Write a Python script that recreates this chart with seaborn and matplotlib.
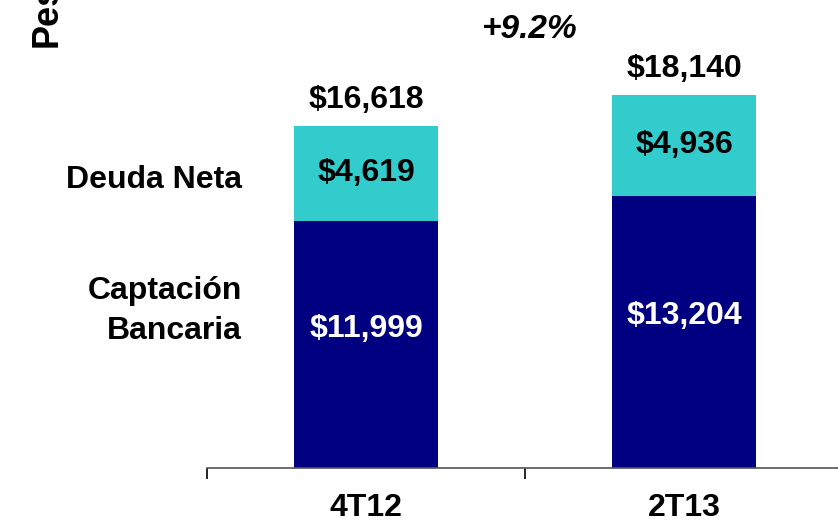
import matplotlib.pyplot as plt
import pandas as pd
import seaborn as sns

# datos (millones de pesos)
periodos = ["4T12", "2T13"]
captacion = [11999, 13204]
deuda_neta = [4619, 4936]
totales = [16618, 18140]
crecimiento = "+9.2%"

azul = "#000080"
turquesa = "#33CCCC"

sns.set_style("white")
plt.rcParams["font.family"] = ["Liberation Sans", "DejaVu Sans"]
plt.rcParams["font.weight"] = "bold"
plt.rcParams["text.color"] = "black"
plt.rcParams["xtick.color"] = "black"
plt.rcParams["xtick.labelcolor"] = "black"

df = pd.DataFrame({"periodo": periodos, "captacion": captacion,
                   "deuda": deuda_neta, "total": totales})

fig = plt.figure(figsize=(8.38, 5.23), dpi=100)
W, H = 838, 523
base_px = 467.5
ax = fig.add_axes([207 / W, 1 - base_px / H, 636 / W, base_px / H])

# barras apiladas: total (turquesa) y encima la parte de captacion (azul)
sns.barplot(data=df, x="periodo", y="total", color=turquesa, width=0.455,
            saturation=1, linewidth=0, ax=ax)
sns.barplot(data=df, x="periodo", y="captacion", color=azul, width=0.455,
            saturation=1, linewidth=0, ax=ax)

ax.set_xlim(-0.5, 1.5)
ax.set_ylim(0, base_px / 0.02055)
ax.set_xlabel("")
ax.set_ylabel("")
ax.set_yticks([])
for s in ["top", "right", "left"]:
    ax.spines[s].set_visible(False)
ax.spines["bottom"].set_color("#555555")
ax.spines["bottom"].set_linewidth(1.2)
ax.tick_params(axis="x", which="major", bottom=False, length=0, pad=18,
               labelsize=23, labelcolor="black")
ax.set_xticks([-0.5, 0.5, 1.5], minor=True)
ax.tick_params(axis="x", which="minor", bottom=True, length=8, width=1.2,
               color="black", direction="out")
for lbl in ax.get_xticklabels():
    lbl.set_fontweight("bold")

fs = 23
for i in range(len(periodos)):
    ax.text(i, totales[i] + 1250, f"${totales[i]:,}", ha="center", va="center",
            fontsize=fs, fontweight="bold", color="black")
    ax.text(i, captacion[i] + deuda_neta[i] / 2, f"${deuda_neta[i]:,}",
            ha="center", va="center", fontsize=fs, fontweight="bold", color="black")
    ax.text(i, captacion[i] * 0.56, f"${captacion[i]:,}", ha="center",
            va="center", fontsize=fs, fontweight="bold", color="white")

fig.text(530 / W, 1 - 29 / H, crecimiento, ha="center", va="center",
         fontsize=24, fontweight="bold", fontstyle="italic")
fig.text(242 / W, 1 - 180 / H, "Deuda Neta", ha="right", va="center",
         fontsize=fs, fontweight="bold")
fig.text(242 / W, 1 - 291 / H, "Captación", ha="right", va="center",
         fontsize=fs, fontweight="bold")
fig.text(242 / W, 1 - 331 / H, "Bancaria", ha="right", va="center",
         fontsize=fs, fontweight="bold")
fig.text(47 / W, 1 - 47 / H, "Pesos", rotation=90, ha="center", va="bottom",
         fontsize=26, fontweight="bold")

fig.savefig("out.png", dpi=100)
